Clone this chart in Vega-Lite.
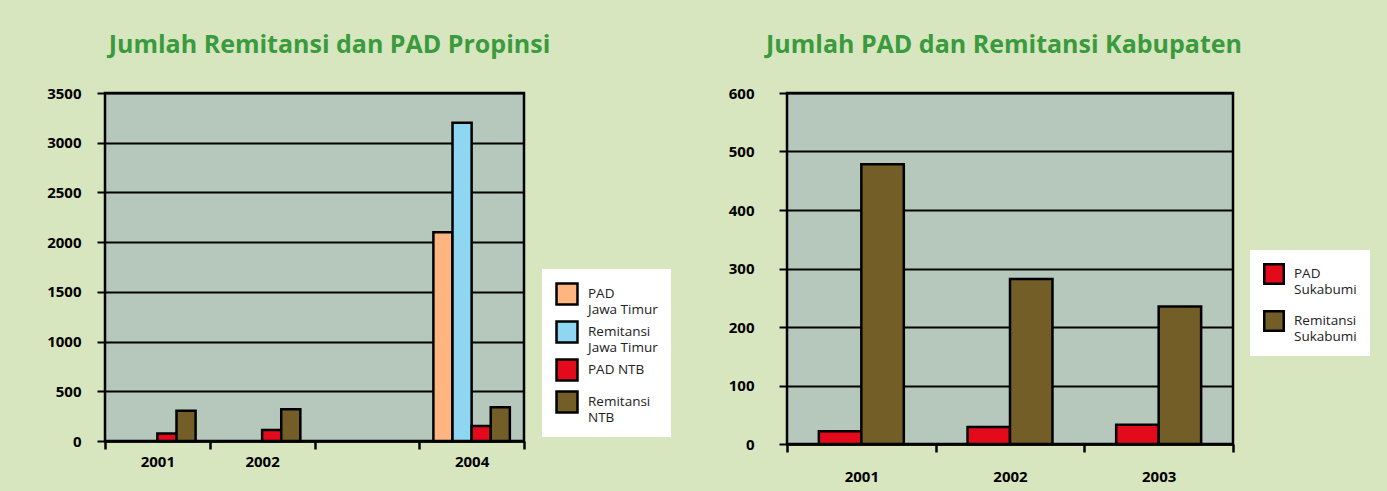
{
  "$schema": "https://vega.github.io/schema/vega-lite/v6.json",
  "background": "#D8E6BF",
  "padding": {"left": 45, "top": 31, "right": 20, "bottom": 16},
  "spacing": 54,
  "config": {
    "font": "Open Sans",
    "view": {"fill": "#B5C8BB", "stroke": "black", "strokeWidth": 2.5},
    "axis": {
      "labelFont": "Open Sans", "labelFontWeight": "bold", "labelFontSize": 15, "labelColor": "black",
      "tickColor": "black", "domainColor": "black", "gridColor": "black", "title": null
    },
    "legend": {"labelFont": "Open Sans", "labelFontSize": 13.5, "labelColor": "#222222"}
  },
  "datasets": {
    "propinsi": [
      {"tahun": "2001", "seri": "PAD NTB", "nilai": 75},
      {"tahun": "2001", "seri": "Remitansi NTB", "nilai": 305},
      {"tahun": "2002", "seri": "PAD NTB", "nilai": 110},
      {"tahun": "2002", "seri": "Remitansi NTB", "nilai": 320},
      {"tahun": "2004", "seri": "PAD Jawa Timur", "nilai": 2100},
      {"tahun": "2004", "seri": "Remitansi Jawa Timur", "nilai": 3200},
      {"tahun": "2004", "seri": "PAD NTB", "nilai": 150},
      {"tahun": "2004", "seri": "Remitansi NTB", "nilai": 340}
    ],
    "kabupaten": [
      {"tahun": "2001", "seri": "PAD Sukabumi", "nilai": 22},
      {"tahun": "2001", "seri": "Remitansi Sukabumi", "nilai": 478},
      {"tahun": "2002", "seri": "PAD Sukabumi", "nilai": 29},
      {"tahun": "2002", "seri": "Remitansi Sukabumi", "nilai": 282},
      {"tahun": "2003", "seri": "PAD Sukabumi", "nilai": 33},
      {"tahun": "2003", "seri": "Remitansi Sukabumi", "nilai": 235}
    ]
  },
  "resolve": {"scale": {"color": "independent", "x": "independent", "y": "independent", "xOffset": "independent"}, "legend": {"color": "independent"}},
  "hconcat": [
    {
      "title": {"text": "Jumlah Remitansi dan PAD Propinsi", "fontSize": 25, "color": "#3A9A3E", "font": "Open Sans", "fontWeight": "bold", "offset": 28, "dx": 15},
      "width": 419,
      "height": 348,
      "data": {"name": "propinsi"},
      "mark": {"type": "bar", "stroke": "black", "strokeWidth": 2.5},
      "encoding": {
        "x": {
          "field": "tahun", "type": "nominal",
          "scale": {"domain": ["2001", "2002", "2003", "2004"], "paddingInner": 0, "paddingOuter": 0},
          "axis": {"labelAngle": 0, "tickBand": "extent", "tickSize": 8, "tickWidth": 2.5, "domainWidth": 2.5, "labelPadding": 5, "labelExpr": "datum.value == '2003' ? '' : datum.value", "title": null}
        },
        "xOffset": {
          "field": "seri", "type": "nominal",
          "scale": {"domain": ["PAD Jawa Timur", "Remitansi Jawa Timur", "PAD NTB", "Remitansi NTB"], "paddingInner": 0, "paddingOuter": 0.74}
        },
        "y": {
          "field": "nilai", "type": "quantitative",
          "scale": {"domain": [0, 3500], "nice": false},
          "axis": {"values": [0, 500, 1000, 1500, 2000, 2500, 3000, 3500], "format": "d", "grid": true, "gridWidth": 2, "gridColor": "black", "domain": false, "tickSize": 8, "tickWidth": 2, "labelPadding": 16, "title": null}
        },
        "color": {
          "field": "seri", "type": "nominal",
          "scale": {"domain": ["PAD Jawa Timur", "Remitansi Jawa Timur", "PAD NTB", "Remitansi NTB"], "range": ["#FFB57F", "#8FD6F2", "#E30B1B", "#735E27"]},
          "legend": {
            "title": null, "orient": "none", "legendX": 437, "legendY": 176,
            "fillColor": "white", "padding": 13, "symbolType": "square", "symbolSize": 440,
            "symbolStrokeColor": "black", "symbolStrokeWidth": 2.5, "symbolOpacity": 1,
            "labelOffset": 9, "rowPadding": 0,
            "labelExpr": "datum.label == 'PAD NTB' ? datum.label : [substring(datum.label, 0, indexof(datum.label, ' ')), substring(datum.label, indexof(datum.label, ' ') + 1)]"
          }
        }
      }
    },
    {
      "title": {"text": "Jumlah PAD dan Remitansi Kabupaten", "fontSize": 25, "color": "#3A9A3E", "font": "Open Sans", "fontWeight": "bold", "offset": 28, "dx": -6},
      "width": 446,
      "height": 351,
      "data": {"name": "kabupaten"},
      "mark": {"type": "bar", "stroke": "black", "strokeWidth": 2.5},
      "encoding": {
        "x": {
          "field": "tahun", "type": "nominal",
          "scale": {"domain": ["2001", "2002", "2003"], "paddingInner": 0, "paddingOuter": 0},
          "axis": {"labelAngle": 0, "tickBand": "extent", "tickSize": 8, "tickWidth": 2.5, "domainWidth": 2.5, "labelPadding": 17, "title": null}
        },
        "xOffset": {
          "field": "seri", "type": "nominal",
          "scale": {"domain": ["PAD Sukabumi", "Remitansi Sukabumi"], "paddingInner": 0, "paddingOuter": 0.75}
        },
        "y": {
          "field": "nilai", "type": "quantitative",
          "scale": {"domain": [0, 600], "nice": false},
          "axis": {"values": [0, 100, 200, 300, 400, 500, 600], "format": "d", "grid": true, "gridWidth": 2, "gridColor": "black", "domain": false, "tickSize": 8, "tickWidth": 2, "labelPadding": 25, "title": null}
        },
        "color": {
          "field": "seri", "type": "nominal",
          "scale": {"domain": ["PAD Sukabumi", "Remitansi Sukabumi"], "range": ["#E30B1B", "#735E27"]},
          "legend": {
            "title": null, "orient": "none", "legendX": 463, "legendY": 157,
            "fillColor": "white", "padding": 13, "symbolType": "square", "symbolSize": 380,
            "symbolStrokeColor": "black", "symbolStrokeWidth": 2.5, "symbolOpacity": 1,
            "labelOffset": 9, "rowPadding": 10,
            "labelExpr": "[substring(datum.label, 0, indexof(datum.label, ' ')), substring(datum.label, indexof(datum.label, ' ') + 1)]"
          }
        }
      }
    }
  ]
}
